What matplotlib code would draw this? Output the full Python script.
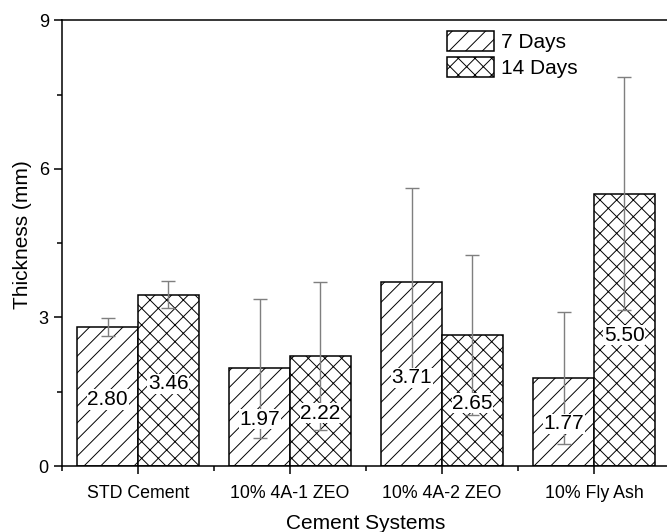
import numpy as np
import matplotlib
matplotlib.use('Agg')
import matplotlib.pyplot as plt
from matplotlib.ticker import MultipleLocator

plt.rcParams['font.family'] = ['Liberation Sans', 'DejaVu Sans']
plt.rcParams['hatch.linewidth'] = 0.7

categories = ['STD Cement', '10% 4A-1 ZEO', '10% 4A-2 ZEO', '10% Fly Ash']
days7      = [2.80, 1.97, 3.71, 1.77]
days7_err  = [0.18, 1.40, 1.91, 1.33]
days14     = [3.46, 2.22, 2.65, 5.50]
days14_err = [0.27, 1.50, 1.61, 2.35]

x = np.arange(1, len(categories) + 1)
width = 0.4

fig = plt.figure(figsize=(6.67, 5.32), dpi=100)
ax = fig.add_axes([0.093, 0.124, 0.9115, 0.838])

series = [(days7, days7_err, '//', '7 Days', -width/2),
          (days14, days14_err, 'xx', '14 Days', width/2)]
for vals, errs, hatch, label, off in series:
    ax.bar(x + off, vals, width=width, color='white', edgecolor='black',
           linewidth=1.1, hatch=hatch, label=label, zorder=2)
    ax.errorbar(x + off, vals, yerr=errs, fmt='none', ecolor='#7f7f7f',
                elinewidth=1.0, capsize=5, capthick=1.0, zorder=3)
    for xi, v in zip(x + off, vals):
        ax.text(xi, v*0.48, '%.2f' % v, ha='center', va='center', fontsize=15,
                zorder=4, bbox=dict(facecolor='white', edgecolor='none', pad=0.5))

ax.set_xlim(0.5, 4.5)
ax.set_ylim(0, 9)
ax.set_xticks(x, categories, fontsize=12.8)
ax.xaxis.set_minor_locator(MultipleLocator(1.0, offset=0.5))
ax.yaxis.set_major_locator(MultipleLocator(3))
ax.yaxis.set_minor_locator(MultipleLocator(1.5))
ax.tick_params(axis='y', labelsize=13)
ax.tick_params(axis='x', which='major', pad=8)
ax.tick_params(which='major', direction='out', length=6, width=1.1)
ax.tick_params(which='minor', direction='out', length=3.5, width=1.1)
for s in ax.spines.values():
    s.set_linewidth(1.1)

ax.set_xlabel('Cement Systems', fontsize=15, labelpad=8)
ax.set_ylabel('Thickness (mm)', fontsize=15)
ax.yaxis.set_label_coords(-0.05, 0.518)

ax.legend(loc='upper left', bbox_to_anchor=(0.634, 0.975), frameon=False,
          fontsize=15, handlelength=2.25, handleheight=1.1,
          handletextpad=0.3, labelspacing=0.22, borderpad=0, borderaxespad=0)

plt.savefig('out.png', dpi=100)
